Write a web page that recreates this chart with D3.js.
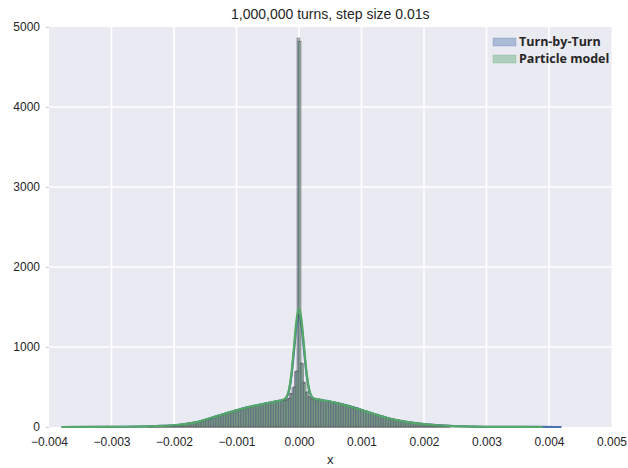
<!DOCTYPE html>
<html>
<head>
<meta charset="utf-8">
<script src="https://cdn.jsdelivr.net/npm/d3@7"></script>
<style>
body { margin: 0; background: #fff; }
text { font-family: "Liberation Sans", Arial, sans-serif; }
</style>
</head>
<body>
<script>
var width = 628,
    height = 468;

var margin = {left: 49, right: 16.5, top: 27, bottom: 41};

// histogram bins (density), bin width 0.00004
var binWidth = 0.00004;
var tbtStart = -0.00243;
var pmStart = -0.00241;

var tbtCounts = [5,6,7,7,8,10,12,14,16,18,
    20,23,26,30,34,39,44,50,56,62,
    68,75,83,92,101,111,121,131,141,152,
    163,172,182,192,201,210,218,226,234,241,
    248,255,262,268,275,282,289,296,302,308,
    314,320,325,330,335,338,360,420,490,690,
    4860,
    800,560,430,380,352,345,340,336,332,328,
    322,318,314,308,302,294,286,278,270,262,
    254,246,236,226,214,204,194,184,174,164,
    154,144,134,125,116,108,101,95,88,82,
    76,70,65,60,55,51,47,43,40,37,
    33,30,27,24,22,19,17,15,13,12];

var pmCounts = [4,6,6,8,9,10,11,14,17,19,
    21,22,27,29,35,38,45,49,57,63,
    67,76,82,93,100,112,120,132,140,153,
    162,174,181,193,200,211,217,227,233,242,
    247,256,261,269,274,283,288,297,301,309,
    313,321,324,331,334,340,355,415,500,700,
    4820,
    790,550,440,375,355,343,341,335,333,327,
    323,317,315,307,303,293,287,277,271,261,
    255,245,237,225,215,203,195,183,175,163,
    155,143,135,124,117,107,102,94,89,81,
    77,69,66,59,56,50,48,42,41,36,
    34,29,28,23,23,18,18,14,14,11];

// kde curves
var tbtKdeX = [-0.0038,-0.0032,-0.0028,-0.0024,-0.0022,-0.002,-0.0018,-0.0016,-0.0014,-0.0012,
    -0.001,-0.0008,-0.0006,-0.0004,-0.0003,-0.00024,-0.0002,-0.00016,-0.00012,-0.00008,
    -0.00004,0,0.00004,0.00008,0.00012,0.00016,0.0002,0.00024,0.0003,0.0004,
    0.0005,0.0006,0.0008,0.001,0.0012,0.0014,0.0016,0.0018,0.002,0.0022,
    0.0024,0.0028,0.0032,0.0039,0.0042];
var tbtKde = [0,1,3,8,13,21,40,67,114,163,
    210,251,284,316,331,344,372,450,645,950,
    1265,1400,1270,960,660,465,380,354,346,331,
    319,301,261,213,163,116,81,56,37,23,
    14,5,1,0.5,0];

var pmKdeX = [-0.0038,-0.0032,-0.0028,-0.0024,-0.0022,-0.002,-0.0018,-0.0016,-0.0014,-0.0012,
    -0.001,-0.0008,-0.0006,-0.0004,-0.0003,-0.00024,-0.0002,-0.00016,-0.00012,-0.00008,
    -0.00004,0,0.00004,0.00008,0.00012,0.00016,0.0002,0.00024,0.0003,0.0004,
    0.0005,0.0006,0.0008,0.001,0.0012,0.0014,0.0016,0.0018,0.002,0.0022,
    0.0024,0.0028,0.0032,0.0039];
var pmKde = [0,1,3,8,13,22,40,68,115,163,
    210,250,283,315,330,345,375,465,675,1000,
    1335,1480,1340,1010,690,480,385,355,345,330,
    318,300,260,212,162,115,80,55,36,22,
    13,4,1,0];

var xTicks = [-0.004,-0.003,-0.002,-0.001,0,0.001,0.002,0.003,0.004,0.005];
var yTicks = [0,1000,2000,3000,4000,5000];
var legendLabels = ["Turn-by-Turn", "Particle model"];
var blue = "#4C72B0", green = "#55A868";

var svg = d3.select("body").append("svg")
    .attr("width", width)
    .attr("height", height)

var x = d3.scaleLinear().domain([-0.004, 0.005]).range([margin.left, width - margin.right]);
var y = d3.scaleLinear().domain([0, 5000]).range([height - margin.bottom, margin.top]);

/* background + grid */
svg.append("rect")
    .attr("x", x.range()[0]).attr("y", y.range()[1])
    .attr("width", x.range()[1] - x.range()[0])
    .attr("height", y.range()[0] - y.range()[1])
    .attr("fill", "#EAEAF2")

svg.selectAll(".vgrid").data(xTicks.slice(1, -1)).enter().append("line")
    .attr("x1", d => x(d)).attr("x2", d => x(d))
    .attr("y1", y.range()[0]).attr("y2", y.range()[1])
    .attr("stroke", "#fff").attr("stroke-width", 1.6)

svg.selectAll(".hgrid").data(yTicks.slice(1, -1)).enter().append("line")
    .attr("x1", x.range()[0]).attr("x2", x.range()[1])
    .attr("y1", d => y(d)).attr("y2", d => y(d))
    .attr("stroke", "#fff").attr("stroke-width", 1.6)

/* histogram + kde for one series */
function drawSeries(counts, start, kx, ky, color) {
    svg.append("g").attr("opacity", 0.45)
        .selectAll("rect").data(counts).enter().append("rect")
        .attr("x", (d, i) => x(start + i * binWidth))
        .attr("width", x(binWidth) - x(0))
        .attr("y", d => y(d))
        .attr("height", d => y(0) - y(d))
        .attr("fill", color)
        .attr("stroke", "#1a1a1a")
        .attr("stroke-width", 1)

    var line = d3.line()
        .x((d, i) => x(kx[i]))
        .y(d => y(d))
        .curve(d3.curveMonotoneX)

    svg.append("path")
        .attr("d", line(ky))
        .attr("fill", "none")
        .attr("stroke", color)
        .attr("stroke-width", 2.2)
}

drawSeries(tbtCounts, tbtStart, tbtKdeX, tbtKde, blue)
drawSeries(pmCounts, pmStart, pmKdeX, pmKde, green)

/* axes */
var xAxis = svg.append("g")
    .attr("transform", "translate(0," + y(0) + ")")
    .call(d3.axisBottom(x).tickValues(xTicks).tickSize(0).tickPadding(10).tickFormat(d3.format(".3f")))
var yAxis = svg.append("g")
    .attr("transform", "translate(" + x.range()[0] + ",0)")
    .call(d3.axisLeft(y).tickValues(yTicks).tickSize(3).tickPadding(6).tickFormat(d3.format("d")))

svg.selectAll(".domain").remove()
svg.selectAll(".tick line").attr("stroke", "#c8c8c8")
svg.selectAll(".tick text")
    .attr("fill", "#262626")
    .style("font-size", "12px")
    .style("font-family", "'Liberation Sans', Arial, sans-serif")

svg.append("text")
    .attr("x", (x.range()[0] + x.range()[1]) / 2)
    .attr("y", 19)
    .attr("text-anchor", "middle")
    .attr("fill", "#262626")
    .style("font-size", "14px")
    .text("1,000,000 turns, step size 0.01s")

svg.append("text")
    .attr("x", (x.range()[0] + x.range()[1]) / 2)
    .attr("y", 464)
    .attr("text-anchor", "middle")
    .attr("fill", "#262626")
    .style("font-size", "13px")
    .text("x")

/* legend */
var leg = svg.selectAll(".leg").data(legendLabels).enter().append("g")
    .attr("transform", (d, i) => "translate(493," + (42 + i * 17) + ")")

leg.append("rect")
    .attr("x", 0).attr("y", -4)
    .attr("width", 23).attr("height", 8)
    .attr("fill", (d, i) => i == 0 ? blue : green)
    .attr("fill-opacity", 0.4)
    .attr("stroke", (d, i) => i == 0 ? blue : green)
    .attr("stroke-opacity", 0.5)
    .attr("stroke-width", 0.5)

leg.append("text")
    .attr("x", 26)
    .attr("dy", "0.35em")
    .attr("fill", "#262626")
    .style("font-family", "'Open Sans', sans-serif")
    .style("font-weight", "bold")
    .style("font-size", "12.5px")
    .text(d => d)
</script>
</body>
</html>
